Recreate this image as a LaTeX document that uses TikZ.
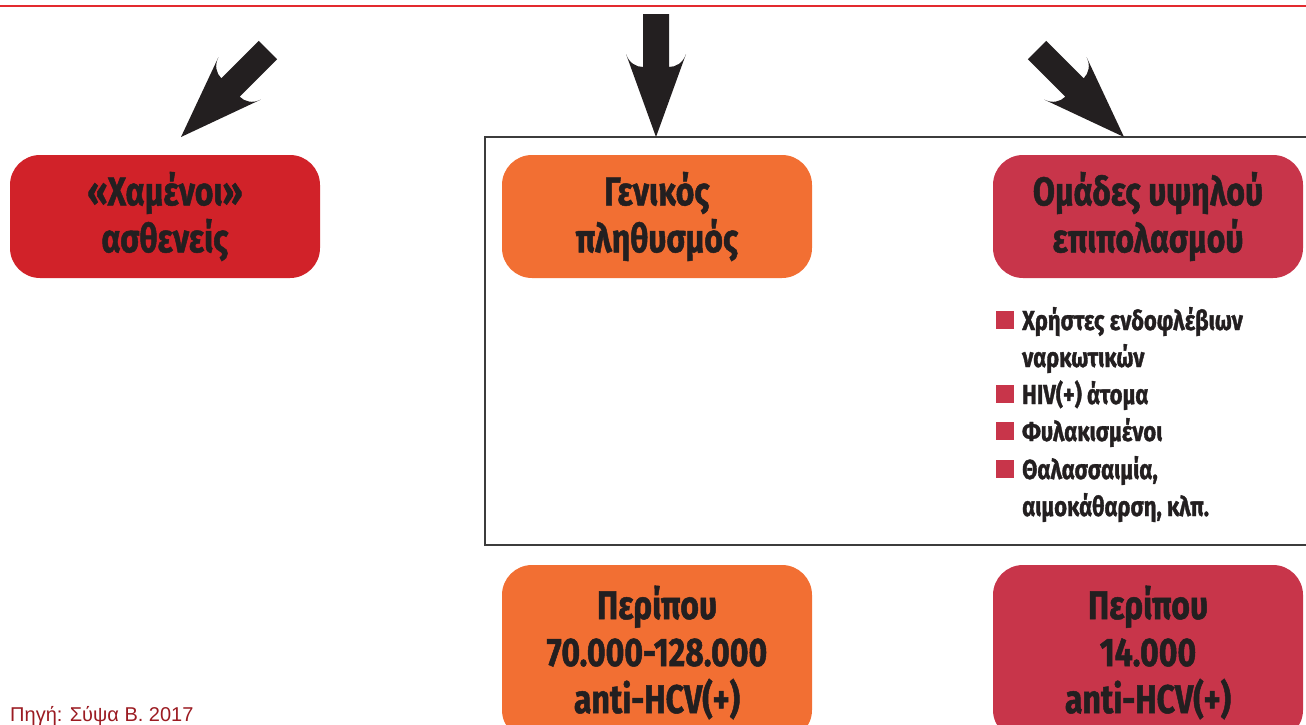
\documentclass[tikz,border=0pt]{standalone}
\usepackage{fontspec}
\newfontfamily\cf[FakeStretch=0.8, BoldFeatures={FakeBold=1.2}]{Fira Sans}
\newfontfamily\srcf{Liberation Sans}
\definecolor{lostred}{HTML}{D12229}
\definecolor{orangeb}{HTML}{F26F33}
\definecolor{crim}{HTML}{C8354A}
\definecolor{txt}{HTML}{231F20}
\definecolor{framec}{HTML}{3C3C3C}
\definecolor{srcc}{HTML}{9B1B22}
\definecolor{topred}{HTML}{E32A2F}
\newcommand\bigarrow[2]{%
  \fill[txt, shift={#1}, rotate=#2] (0,0) -- (-83,30) .. controls (-74,27) and (-70,20) .. (-70,13)
    -- (-123,13) -- (-123,-13) -- (-70,-13) .. controls (-70,-20) and (-74,-27) .. (-83,-30) -- cycle;}
\tikzset{
  box/.style={rounded corners=30pt, minimum width=310pt, minimum height=123pt, align=center,
    font=\cf\bfseries\fontsize{40}{47}\selectfont, text=txt, inner sep=0pt},
  item/.style={anchor=base west, inner sep=0pt, text=txt, font=\cf\bfseries\fontsize{27.5}{33}\selectfont},
  bullet/.style={fill=crim, minimum size=18pt, inner sep=0pt},
  frame/.style={draw=framec, line width=1.4pt},
}
\begin{document}
\begin{tikzpicture}[x=1pt,y=-1pt]
\useasboundingbox (0,0) rectangle (1306,724);
\clip (0,0) rectangle (1306,724);
\draw[topred, line width=2pt] (0,6) -- (1306,6);
\draw[frame] (485,137) rectangle (1330,545);
\bigarrow{(181,137)}{225}
\bigarrow{(656,137)}{270}
\bigarrow{(1124,137)}{315}
\node[box, fill=lostred] (lost) at (165,216.5) {«Χαμένοι»\\ασθενείς};
\node[box, fill=orangeb] (gen) at (657,216.5) {Γενικός\\πληθυσμός};
\node[box, fill=crim] (high) at (1148,216.5) {Ομάδες υψηλού\\επιπολασμού};
\node[box, fill=orangeb, minimum height=175pt] (genN) at (657,652.5) {Περίπου\\70.000-128.000\\anti-HCV(+)};
\node[box, fill=crim, minimum height=175pt] (highN) at (1148,652.5) {Περίπου\\14.000\\anti-HCV(+)};
\node[bullet] (b1) at (1005,320) {};
\node[bullet] (b2) at (1005,394) {};
\node[bullet] (b3) at (1005,431) {};
\node[bullet] (b4) at (1005,469) {};
\node[item] (i1) at (1022,330) {Χρήστες ενδοφλέβιων};
\node[item] (i1b) at (1022,367) {ναρκωτικών};
\node[item] (i2) at (1022,404) {HIV(+) άτομα};
\node[item] (i3) at (1022,441) {Φυλακισμένοι};
\node[item] (i4) at (1022,479) {Θαλασσαιμία,};
\node[item] (i4b) at (1022,516) {αιμοκάθαρση, κλπ.};
\node[anchor=base west, inner sep=0pt, text=srcc, font=\srcf\fontsize{20}{24}\selectfont] (src) at (10,721) {Πηγή: Σύψα Β. 2017};
\end{tikzpicture}
\end{document}
